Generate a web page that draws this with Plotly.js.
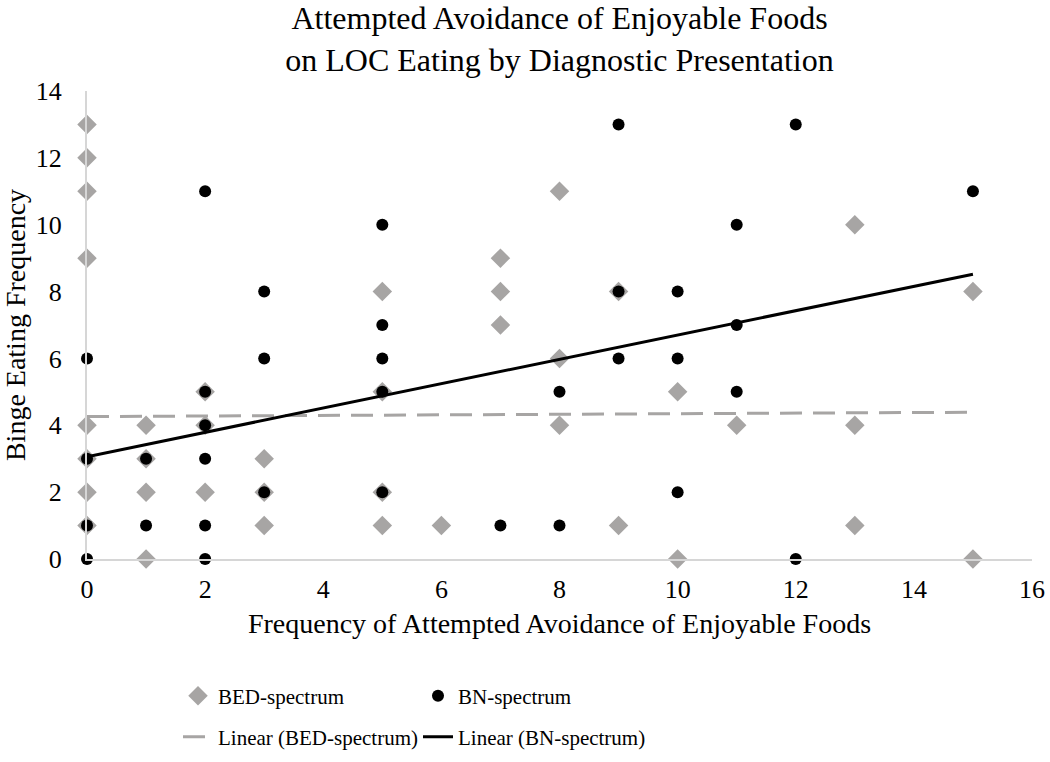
<!DOCTYPE html>
<html>
<head>
<meta charset="utf-8">
<script src="https://cdn.plot.ly/plotly-3.0.1.min.js"></script>
<style>html,body{margin:0;padding:0;background:#fff;}#chart{width:1050px;height:762px;}</style>
</head>
<body>
<div id="chart"></div>
<script>
// BED-spectrum points
var bedX = [0,0,0,0,0,0,0,0, 1,1,1,1, 2,2,2, 3,3,3, 5,5,5,5, 6, 7,7,7, 8,8,8, 9,9, 10,10, 11, 13,13,13, 15,15];
var bedY = [13,12,11,9,4,3,2,1, 4,3,2,0, 5,4,2, 3,2,1, 8,5,2,1, 1, 9,8,7, 11,6,4, 8,1, 5,0, 4, 10,4,1, 8,0];
// BN-spectrum points
var bnX = [0,0,0,0, 1,1, 2,2,2,2,2,2, 3,3,3, 5,5,5,5,5, 7, 8,8, 9,9,9, 10,10,10, 11,11,11, 12,12, 15];
var bnY = [6,3,1,0, 3,1, 11,5,4,3,1,0, 8,6,2, 10,7,6,5,2, 1, 5,1, 13,8,6, 8,6,2, 10,7,5, 13,0, 11];
// Linear trendlines (endpoints)
var trendX = [0, 15];
var bedTrendY = [4.26, 4.39];
var bnTrendY = [3.06, 8.52];
// Axis ticks
var xTicks = [0,2,4,6,8,10,12,14,16];
var yTicks = [0,2,4,6,8,10,12,14];

var FONT = 'Liberation Serif, Times New Roman, serif';
var GRAY = '#a7a5a4';

var traces = [
  {x: bedX, y: bedY, type: 'scatter', mode: 'markers', name: 'BED-spectrum',
   marker: {symbol: 'diamond', size: 15, color: GRAY}, cliponaxis: false, legend: 'legend'},
  {x: bnX, y: bnY, type: 'scatter', mode: 'markers', name: 'BN-spectrum',
   marker: {symbol: 'circle', size: 12, color: '#000'}, cliponaxis: false, legend: 'legend'},
  {x: trendX, y: bedTrendY, type: 'scatter', mode: 'lines', name: 'Linear (BED-spectrum)',
   line: {color: GRAY, width: 3, dash: '22px,11px'}, legend: 'legend2'},
  {x: trendX, y: bnTrendY, type: 'scatter', mode: 'lines', name: 'Linear (BN-spectrum)',
   line: {color: '#000', width: 3}, legend: 'legend2'}
];

var layout = {
  width: 1050, height: 762,
  paper_bgcolor: '#fff', plot_bgcolor: '#fff',
  margin: {l: 87, r: 18, t: 91, b: 203},
  font: {family: FONT, color: '#000', size: 22},
  title: {
    text: 'Attempted Avoidance of Enjoyable Foods<br>on LOC Eating by Diagnostic Presentation',
    font: {family: FONT, size: 32, color: '#000'},
    xref: 'paper', x: 0.5, xanchor: 'center',
    yref: 'container', y: 0.962, yanchor: 'top'
  },
  xaxis: {
    range: [0, 16], tickvals: xTicks, ticktext: xTicks.map(String),
    showgrid: false, zeroline: false, showline: true, linecolor: '#d6d6d6', linewidth: 2,
    ticks: '', ticklabelstandoff: 6,
    tickfont: {family: FONT, size: 26, color: '#000'},
    title: {text: 'Frequency of Attempted Avoidance of Enjoyable Foods',
            font: {family: FONT, size: 28, color: '#000'}, standoff: 10}
  },
  yaxis: {
    range: [0, 14], tickvals: yTicks, ticktext: yTicks.map(String),
    showgrid: false, zeroline: false, showline: true, linecolor: '#d6d6d6', linewidth: 2,
    ticks: '', ticklabelstandoff: 18,
    tickfont: {family: FONT, size: 26, color: '#000'},
    title: {text: 'Binge Eating Frequency',
            font: {family: FONT, size: 28, color: '#000'}, standoff: 10}
  },
  showlegend: true,
  legend: {
    orientation: 'h', xref: 'container', yref: 'container',
    x: 178/1050, xanchor: 'left', y: 1 - 696/762, yanchor: 'middle',
    entrywidth: 195, font: {family: FONT, size: 21, color: '#000'},
    bgcolor: 'rgba(0,0,0,0)', traceorder: 'normal'
  },
  legend2: {
    orientation: 'h', xref: 'container', yref: 'container',
    x: 178/1050, xanchor: 'left', y: 1 - 737/762, yanchor: 'middle',
    entrywidth: 195, font: {family: FONT, size: 21, color: '#000'},
    bgcolor: 'rgba(0,0,0,0)', traceorder: 'normal'
  }
};

Plotly.newPlot('chart', traces, layout, {displayModeBar: false, staticPlot: true});
</script>
</body>
</html>
